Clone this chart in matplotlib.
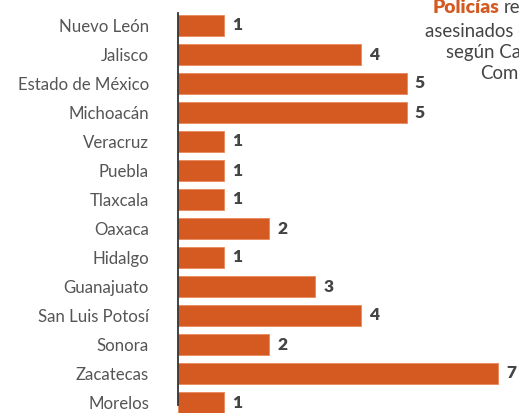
import matplotlib
matplotlib.use('Agg')
import matplotlib.pyplot as plt

plt.rcParams['font.family'] = ['Lato', 'DejaVu Sans']

# data
estados = ['Nuevo León', 'Jalisco', 'Estado de México', 'Michoacán', 'Veracruz',
           'Puebla', 'Tlaxcala', 'Oaxaca', 'Hidalgo', 'Guanajuato',
           'San Luis Potosí', 'Sonora', 'Zacatecas', 'Morelos']
policias = [1, 4, 5, 5, 1, 1, 1, 2, 1, 3, 4, 2, 7, 1]

NARANJA = '#D45A22'
GRIS = '#444444'

W, H = 519, 413
fig = plt.figure(figsize=(W / 100, H / 100), dpi=100)
ax = fig.add_axes([178 / W, 0, 1 - 178 / W, 1])
renderer = fig.canvas.get_renderer()


def fit_size(txt, width_px, size=12, **kw):
    # font size that makes txt about width_px wide
    t = fig.text(0, 0, txt, fontsize=size, **kw)
    w = t.get_window_extent(renderer).width
    t.remove()
    return size * width_px / w


pos = list(range(len(estados)))
ax.barh(pos, policias, height=0.72, color=NARANJA, edgecolor='#E8895A', linewidth=0.6)

# 1 unit ~ 45.7 px
ax.set_xlim(0, (W - 178) / 45.7)
ax.set_ylim(13 + (H - 402.5) / 29, -25.5 / 29)

for y, v in zip(pos, policias):
    ax.annotate(str(v), (v, y), xytext=(6, 0), textcoords='offset points',
                va='center', ha='left', fontsize=12.5, fontweight='heavy', color=GRIS)

lab_size = fit_size('Estado de México', 131)
ax.set_yticks(pos)
ax.set_yticklabels(estados, fontsize=lab_size, color='#555555')
ax.tick_params(axis='y', length=0, pad=(178 - 149) * 0.72)
ax.set_xticks([])
for s in ['top', 'right', 'bottom']:
    ax.spines[s].set_visible(False)
ax.spines['left'].set_color('#333333')
ax.spines['left'].set_linewidth(1.3)
ax.spines['left'].set_bounds(13.09, -0.43)

# title block, cut by the right edge
tsize = fit_size('asesinados', 88)
psize = fit_size('Policías', 66, fontweight='heavy')
fig.text(433 / W, 1 - 13 / H, 'Policías', color=NARANJA, fontsize=psize,
         fontweight='heavy', va='baseline', ha='left')
fig.text(504 / W, 1 - 13 / H, 'reportados', color=GRIS, fontsize=tsize,
         va='baseline', ha='left')
fig.text(425 / W, 1 - 37 / H, 'asesinados en', color=GRIS, fontsize=tsize,
         va='baseline', ha='left')
fig.text(446 / W, 1 - 58 / H, 'según Causa en', color=GRIS, fontsize=tsize,
         va='baseline', ha='left')
fig.text(480 / W, 1 - 79 / H, 'Común', color=GRIS, fontsize=tsize,
         va='baseline', ha='left')

fig.savefig('out.png', dpi=100)
